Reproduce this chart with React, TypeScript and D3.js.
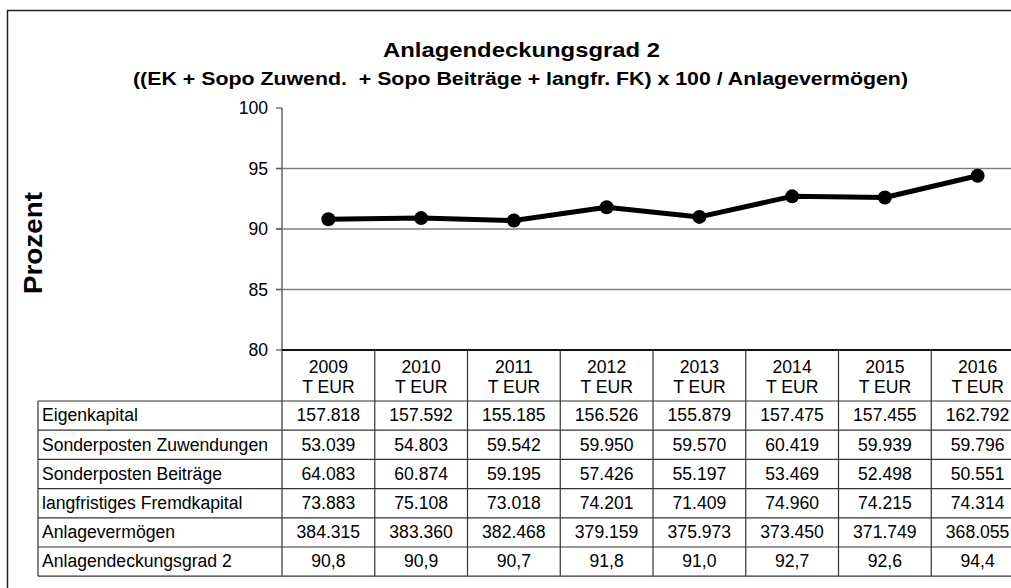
import React, { useEffect, useRef } from "react";
import * as d3 from "d3";

// chart values
const years = ["2009", "2010", "2011", "2012", "2013", "2014", "2015", "2016"];
const grad2 = [90.8, 90.9, 90.7, 91.8, 91.0, 92.7, 92.6, 94.4];
const yTicks = [80, 85, 90, 95, 100];

const rowLabels = [
  "Eigenkapital",
  "Sonderposten Zuwendungen",
  "Sonderposten Beiträge",
  "langfristiges Fremdkapital",
  "Anlagevermögen",
  "Anlagendeckungsgrad 2",
];
const eigenkapital = ["157.818", "157.592", "155.185", "156.526", "155.879", "157.475", "157.455", "162.792"];
const sopoZuwendungen = ["53.039", "54.803", "59.542", "59.950", "59.570", "60.419", "59.939", "59.796"];
const sopoBeitraege = ["64.083", "60.874", "59.195", "57.426", "55.197", "53.469", "52.498", "50.551"];
const langfrFK = ["73.883", "75.108", "73.018", "74.201", "71.409", "74.960", "74.215", "74.314"];
const anlagevermoegen = ["384.315", "383.360", "382.468", "379.159", "375.973", "373.450", "371.749", "368.055"];
const grad2Text = ["90,8", "90,9", "90,7", "91,8", "91,0", "92,7", "92,6", "94,4"];

const App = () => {
  const ref = useRef<SVGSVGElement>(null);

  useEffect(() => {
    const width = 1011;
    const height = 588;
    const font = "'Liberation Sans', Arial, sans-serif";
    const fs = 17.6;
    const svg = d3.select(ref.current);
    svg.selectAll("*").remove();
    svg.attr("width", width).attr("height", height);

    const plot = { left: 282, right: 1024, top: 108, bottom: 350 };
    const labelLeft = 38;
    const headerBottom = 401;
    const rowH = 29.2;

    const x = d3.scaleBand().domain(years).range([plot.left, plot.right]);
    const y = d3.scaleLinear().domain([80, 100]).range([plot.bottom, plot.top]);

    // outer frame
    svg
      .append("rect")
      .attr("x", 7.5)
      .attr("y", 10.5)
      .attr("width", 1030)
      .attr("height", 600)
      .attr("fill", "white")
      .attr("stroke", "#222")
      .attr("stroke-width", 1.5);

    // titles (the original text is stretched sideways)
    svg
      .append("text")
      .attr("x", 521.5)
      .attr("y", 57)
      .attr("text-anchor", "middle")
      .attr("font-family", font)
      .attr("font-weight", "bold")
      .attr("font-size", 20.5)
      .attr("textLength", 277)
      .attr("lengthAdjust", "spacingAndGlyphs")
      .text("Anlagendeckungsgrad 2");
    svg
      .append("text")
      .attr("x", 520.5)
      .attr("y", 85)
      .attr("text-anchor", "middle")
      .attr("font-family", font)
      .attr("font-weight", "bold")
      .attr("font-size", 18)
      .attr("textLength", 775)
      .attr("lengthAdjust", "spacingAndGlyphs")
      .style("white-space", "pre")
      .text("((EK + Sopo Zuwend.  + Sopo Beiträge + langfr. FK) x 100 / Anlagevermögen)");

    // y axis title
    svg
      .append("text")
      .attr("transform", "translate(42,243) rotate(-90)")
      .attr("text-anchor", "middle")
      .attr("font-family", font)
      .attr("font-weight", "bold")
      .attr("font-size", 25)
      .attr("textLength", 102)
      .attr("lengthAdjust", "spacingAndGlyphs")
      .text("Prozent");

    // gridlines
    svg
      .append("g")
      .selectAll("line")
      .data(yTicks.filter((t) => t !== 80 && t !== 100))
      .enter()
      .append("line")
      .attr("x1", plot.left - 6)
      .attr("x2", plot.right)
      .attr("y1", (d) => y(d))
      .attr("y2", (d) => y(d))
      .attr("stroke", "#7f7f7f")
      .attr("stroke-width", 1.5);

    // ticks
    svg
      .append("g")
      .selectAll("line")
      .data(yTicks)
      .enter()
      .append("line")
      .attr("x1", plot.left - 6)
      .attr("x2", plot.left)
      .attr("y1", (d) => y(d))
      .attr("y2", (d) => y(d))
      .attr("stroke", "#555")
      .attr("stroke-width", 1.2);

    svg
      .append("g")
      .selectAll("text")
      .data(yTicks)
      .enter()
      .append("text")
      .attr("x", plot.left - 14)
      .attr("y", (d) => y(d))
      .attr("dy", "0.35em")
      .attr("text-anchor", "end")
      .attr("font-family", font)
      .attr("font-size", fs)
      .text((d) => d);

    // y axis line
    svg
      .append("line")
      .attr("x1", plot.left)
      .attr("x2", plot.left)
      .attr("y1", plot.top)
      .attr("y2", plot.bottom)
      .attr("stroke", "#666")
      .attr("stroke-width", 1.5);

    // data table
    const rows = [eigenkapital, sopoZuwendungen, sopoBeitraege, langfrFK, anlagevermoegen, grad2Text];
    const tableBottom = headerBottom + rowH * rows.length;
    const table = svg.append("g");

    d3.range(rows.length + 1).forEach((i) => {
      table
        .append("line")
        .attr("x1", labelLeft)
        .attr("x2", plot.right)
        .attr("y1", headerBottom + i * rowH)
        .attr("y2", headerBottom + i * rowH)
        .attr("stroke", "#333")
        .attr("stroke-width", 1.2);
    });
    table
      .append("line")
      .attr("x1", labelLeft)
      .attr("x2", labelLeft)
      .attr("y1", headerBottom)
      .attr("y2", tableBottom)
      .attr("stroke", "#333")
      .attr("stroke-width", 1.2);
    years.forEach((yr) => {
      const bx = x(yr)!;
      table
        .append("line")
        .attr("x1", bx)
        .attr("x2", bx)
        .attr("y1", plot.bottom)
        .attr("y2", tableBottom)
        .attr("stroke", "#333")
        .attr("stroke-width", 1.2);
    });

    // header
    years.forEach((yr) => {
      const cx = x(yr)! + x.bandwidth() / 2;
      table
        .append("text")
        .attr("x", cx)
        .attr("y", 373)
        .attr("text-anchor", "middle")
        .attr("font-family", font)
        .attr("font-size", fs)
        .text(yr);
      table
        .append("text")
        .attr("x", cx)
        .attr("y", 393)
        .attr("text-anchor", "middle")
        .attr("font-family", font)
        .attr("font-size", fs)
        .text("T EUR");
    });

    rows.forEach((vals, i) => {
      const cy = headerBottom + i * rowH + rowH / 2;
      table
        .append("text")
        .attr("x", labelLeft + 4)
        .attr("y", cy)
        .attr("dy", "0.33em")
        .attr("font-family", font)
        .attr("font-size", fs)
        .text(rowLabels[i]);
      vals.forEach((v, j) => {
        table
          .append("text")
          .attr("x", x(years[j])! + x.bandwidth() / 2)
          .attr("y", cy)
          .attr("dy", "0.33em")
          .attr("text-anchor", "middle")
          .attr("font-family", font)
          .attr("font-size", fs)
          .text(v);
      });
    });

    // x axis line (top of table)
    svg
      .append("line")
      .attr("x1", plot.left)
      .attr("x2", plot.right)
      .attr("y1", plot.bottom)
      .attr("y2", plot.bottom)
      .attr("stroke", "#111")
      .attr("stroke-width", 2);

    // series line
    const line = d3
      .line<number>()
      .x((_, i) => x(years[i])! + x.bandwidth() / 2)
      .y((d) => y(d));

    svg
      .append("path")
      .datum(grad2)
      .attr("d", line)
      .attr("fill", "none")
      .attr("stroke", "black")
      .attr("stroke-width", 5)
      .attr("stroke-linejoin", "round");

    svg
      .append("g")
      .selectAll("circle")
      .data(grad2)
      .enter()
      .append("circle")
      .attr("cx", (_, i) => x(years[i])! + x.bandwidth() / 2)
      .attr("cy", (d) => y(d))
      .attr("r", 7)
      .attr("fill", "black");
  }, []);

  return (
    <svg
      ref={ref}
      style={{ position: "absolute", left: 0, top: 0, display: "block" }}
    ></svg>
  );
};

export default App;
